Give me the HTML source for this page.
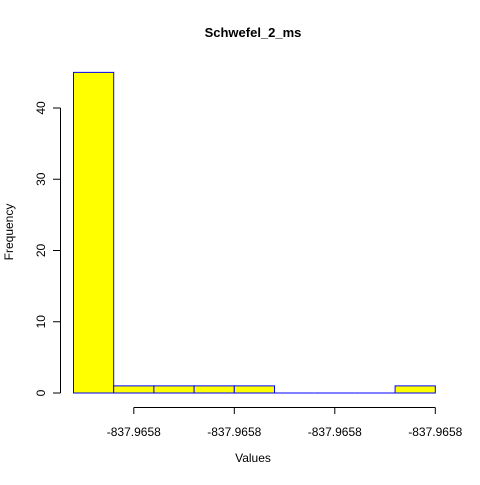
<!DOCTYPE html>
<html><head><meta charset="utf-8"><style>
body{margin:0;background:#fff}
text{font-family:"Liberation Sans",Arial,sans-serif;font-size:12px;fill:#000}
</style></head><body>
<svg width="480" height="480">
<rect width="480" height="480" fill="#fff"/>
<text x="253" y="37" text-anchor="middle" style="font-weight:bold;font-size:13px">Schwefel_2_ms</text>
<text x="253" y="462" text-anchor="middle">Values</text>
<text transform="translate(13,232) rotate(-90)" text-anchor="middle">Frequency</text>
<g id="bars"></g><g id="yaxis"></g><g id="xaxis"></g>
</svg>
<script>
const counts=[45,1,1,1,1,0,0,0,1];
const yTicks=[0,10,20,30,40];
const xTickLabels=["-837.9658","-837.9658","-837.9658","-837.9658"];
const xTickBins=[1.5,4,6.5,9];
const NS="http://www.w3.org/2000/svg";
const x0=73.5,bw=40.2;
const xs=i=>x0+i*bw;
const ys=v=>393-v*7.125;
const bars=document.getElementById('bars');
counts.forEach((c,i)=>{
 let r;
 if(c<=0){
  r=document.createElementNS(NS,'line');
  r.setAttribute('x1',xs(i));r.setAttribute('x2',xs(i+1));
  r.setAttribute('y1',ys(0));r.setAttribute('y2',ys(0));
  r.setAttribute('stroke','#0000ff');
 } else {
  r=document.createElementNS(NS,'rect');
  r.setAttribute('x',xs(i));r.setAttribute('y',ys(c));
  r.setAttribute('width',bw);r.setAttribute('height',393-ys(c));
  r.setAttribute('fill','#ffff00');r.setAttribute('stroke','#0000ff');
 }
 
 
 bars.appendChild(r);
});
const ya=document.getElementById('yaxis');
let h='<line x1="60.5" x2="60.5" y1="'+ys(yTicks[yTicks.length-1])+'" y2="'+ys(0)+'" stroke="#000"/>';
yTicks.forEach(t=>{const y=ys(t);
 h+='<line x1="53" x2="60.5" y1="'+y+'" y2="'+y+'" stroke="#000"/>';
 h+='<text transform="translate(45,'+y+') rotate(-90)" text-anchor="middle">'+t+'</text>';});
ya.innerHTML=h;
const xa=document.getElementById('xaxis');
let g='<line x1="'+xs(xTickBins[0])+'" x2="'+xs(xTickBins[xTickBins.length-1])+'" y1="407.5" y2="407.5" stroke="#000"/>';
xTickBins.forEach((b,i)=>{const x=xs(b);
 g+='<line x1="'+x+'" x2="'+x+'" y1="407.5" y2="414" stroke="#000"/>';
 g+='<text x="'+x+'" y="436" text-anchor="middle">'+xTickLabels[i]+'</text>';});
xa.innerHTML=g;
</script>
</body></html>
